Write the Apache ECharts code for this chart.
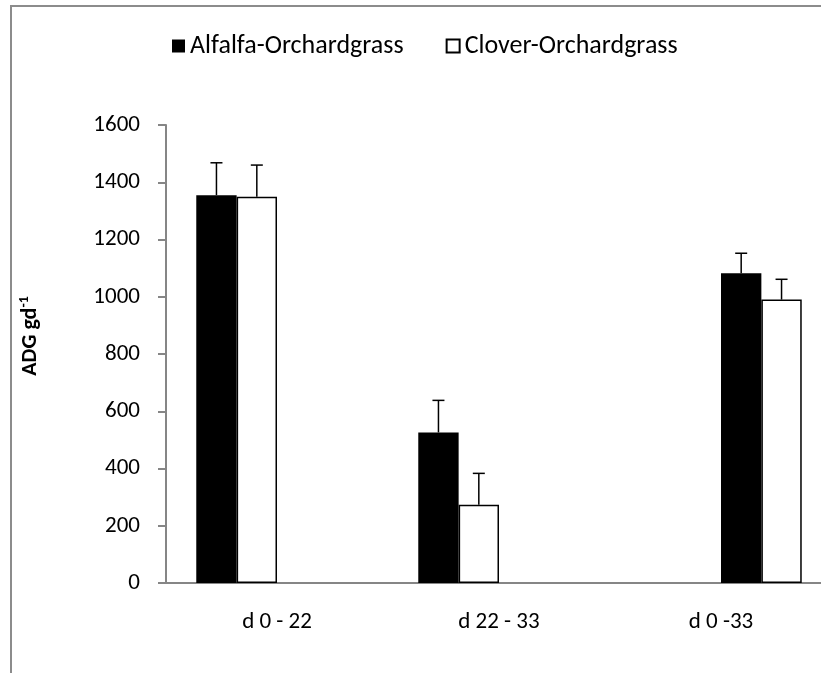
<!DOCTYPE html>
<html>
<head>
<meta charset="utf-8">
<script src="https://cdn.jsdelivr.net/npm/echarts@6/dist/echarts.min.js"></script>
<style>
  html, body { margin: 0; padding: 0; background: #fff; }
  #wrap { position: relative; width: 821px; height: 673px; overflow: hidden; }
  #chart { position: absolute; left: 0; top: 0; width: 821px; height: 673px; }
  #frame { position: absolute; left: 10px; top: 5px; width: 900px; height: 800px;
           border-left: 2px solid #8c8c8c; border-top: 2px solid #8c8c8c; pointer-events: none; }
</style>
</head>
<body>
<div id="wrap"><div id="chart"></div><div id="frame"></div></div>
<script>
// ---- data ----
const categories = ['d 0 - 22', 'd 22 - 33', 'd 0 -33'];
const seriesNames = ['Alfalfa-Orchardgrass', 'Clover-Orchardgrass'];
const alfalfa = [1355, 526, 1082];
const clover = [1349, 273, 990];
const alfalfaErr = [113, 112, 70];
const cloverErr = [111, 110, 71];
// which bar pair of the category each period uses (0 = first pair, 1 = second pair)
const pairIndex = [0, 0, 1];
const yTicks = { min: 0, max: 1600, interval: 200 };

// ---- build ----
const FONT = 'Carlito, Lato, sans-serif';
const values = [alfalfa, clover];
const errs = [alfalfaErr, cloverErr];
const fills = ['#000000', '#ffffff'];
const SLOTS = 4;
const GAP_RATIO = 1.5; // gap width relative to one bar

const barSeries = [];
for (let pair = 0; pair < 2; pair++) {
  for (let s = 0; s < 2; s++) {
    barSeries.push({
      type: 'bar',
      name: seriesNames[s],
      data: values[s].map((v, i) => pairIndex[i] === pair ? v : null),
      barGap: '0%',
      barCategoryGap: (GAP_RATIO / (SLOTS + GAP_RATIO) * 100) + '%',
      itemStyle: { color: fills[s], borderColor: '#000', borderWidth: s === 1 ? 1.5 : 0 },
      emphasis: { disabled: true },
      z: 2
    });
  }
}

const errData = [];
for (let s = 0; s < 2; s++) {
  values[s].forEach((v, i) => {
    errData.push([i, v, errs[s][i], pairIndex[i] * 2 + s]);
  });
}

const errSeries = {
  type: 'custom',
  name: 'err',
  data: errData,
  z: 5,
  silent: true,
  clip: false,
  encode: { x: 0, y: [1] },
  renderItem: function (params, api) {
    const cat = api.value(0), val = api.value(1), err = api.value(2), slot = api.value(3);
    const base = api.coord([cat, val]);
    const top = api.coord([cat, val + err]);
    const band = api.size([1, 0])[0];
    const w = band / (SLOTS + GAP_RATIO);
    const x = base[0] - band / 2 + (GAP_RATIO / 2) * w + (slot + 0.5) * w;
    const cap = 6;
    const st = { stroke: '#000', lineWidth: 1.5 };
    return {
      type: 'group',
      children: [
        { type: 'line', shape: { x1: x, y1: base[1], x2: x, y2: top[1] }, style: st },
        { type: 'line', shape: { x1: x - cap, y1: top[1], x2: x + cap, y2: top[1] }, style: st }
      ]
    };
  }
};

const chart = echarts.init(document.getElementById('chart'), null, { renderer: 'canvas' });
chart.setOption({
  animation: false,
  backgroundColor: '#fff',
  textStyle: { fontFamily: FONT },
  legend: {
    data: seriesNames,
    left: 172,
    top: 33,
    padding: 0,
    icon: 'rect',
    itemWidth: 13,
    itemHeight: 13,
    itemGap: 42,
    textStyle: { fontFamily: FONT, fontSize: 26, color: '#000' },
    selectedMode: false
  },
  grid: { left: 166, top: 125, height: 458, width: 666, containLabel: false, outerBoundsMode: 'none' },
  xAxis: {
    type: 'category',
    data: categories,
    axisLine: { lineStyle: { color: '#868686', width: 2 } },
    axisTick: { show: false },
    axisLabel: { fontFamily: FONT, fontSize: 23, color: '#000', margin: 28 },
    splitLine: { show: false }
  },
  yAxis: {
    type: 'value',
    min: yTicks.min,
    max: yTicks.max,
    interval: yTicks.interval,
    axisLine: { show: true, lineStyle: { color: '#868686', width: 2 } },
    axisTick: { show: true, inside: false, length: 8, lineStyle: { color: '#868686', width: 2 } },
    axisLabel: { fontFamily: FONT, fontSize: 23, color: '#000', margin: 26, formatter: v => String(v) },
    splitLine: { show: false },
    name: '{m|ADG gd}{s|-1}',
    nameLocation: 'middle',
    nameRotate: 90,
    nameGap: 123,
    nameTextStyle: {
      padding: [0, 0, 0, 36],
      rich: {
        m: { fontFamily: FONT, fontSize: 22, fontWeight: 'bold', color: '#000', lineHeight: 26 },
        s: { fontFamily: FONT, fontSize: 14, fontWeight: 'bold', color: '#000', lineHeight: 14, verticalAlign: 'top' }
      }
    }
  },
  series: barSeries.concat([errSeries])
});
</script>
</body>
</html>
